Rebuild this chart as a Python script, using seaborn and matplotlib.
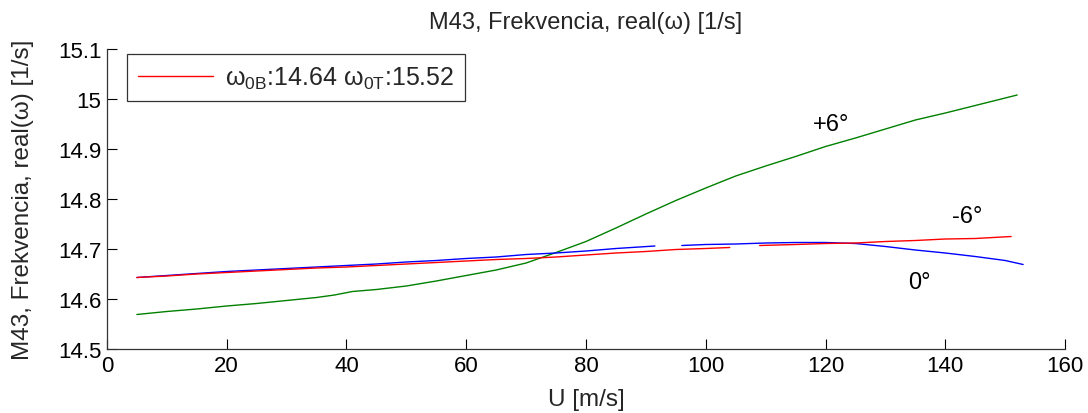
import numpy as np
import pandas as pd
import matplotlib
matplotlib.use("Agg")
import matplotlib.pyplot as plt
import seaborn as sns
from matplotlib.lines import Line2D

# ---- data ----
blue_x1 = [5, 10, 15, 20, 25, 30, 35, 40, 45, 50, 55, 60, 65, 70, 75, 80, 85, 91.5]
blue_y1 = [14.643, 14.647, 14.651, 14.655, 14.658, 14.661, 14.664, 14.667, 14.670, 14.674,
           14.677, 14.681, 14.684, 14.689, 14.692, 14.696, 14.701, 14.706]
blue_x2 = [96, 100, 105, 110, 115, 120, 125, 130, 135, 140, 145, 150, 153]
blue_y2 = [14.707, 14.709, 14.710, 14.712, 14.713, 14.713, 14.711, 14.705, 14.698, 14.692,
           14.685, 14.677, 14.669]

red_x1 = [5, 10, 15, 20, 25, 30, 35, 40, 45, 50, 55, 60, 65, 70, 75, 80, 85, 90, 95, 100, 104]
red_y1 = [14.643, 14.646, 14.650, 14.653, 14.656, 14.659, 14.662, 14.664, 14.667, 14.670,
          14.673, 14.676, 14.679, 14.681, 14.684, 14.688, 14.692, 14.695, 14.699, 14.701, 14.703]
red_x2 = [109, 115, 120, 125, 130, 135, 140, 145, 151]
red_y2 = [14.707, 14.709, 14.711, 14.712, 14.715, 14.717, 14.720, 14.721, 14.725]

green_x = [5, 10, 15, 20, 25, 30, 35, 38, 41, 45, 50, 55, 60, 65, 70, 75, 80, 85, 90, 95,
           100, 105, 110, 115, 120, 125, 130, 135, 140, 145, 150, 152]
green_y = [14.569, 14.575, 14.580, 14.586, 14.591, 14.597, 14.603, 14.608, 14.615, 14.619,
           14.626, 14.636, 14.647, 14.658, 14.672, 14.693, 14.715, 14.742, 14.770, 14.797,
           14.822, 14.846, 14.866, 14.885, 14.905, 14.922, 14.940, 14.958, 14.972, 14.987,
           15.002, 15.008]

annotations = [("+6°", 121, 14.95), ("-6°", 143.6, 14.766), ("0°", 135.6, 14.634)]
x_ticks = [0, 20, 40, 60, 80, 100, 120, 140, 160]
y_ticks = [14.5, 14.6, 14.7, 14.8, 14.9, 15.0, 15.1]
y_ticklabels = ["14.5", "14.6", "14.7", "14.8", "14.9", "15", "15.1"]
legend_label = r"$\omega_{0B}$:14.64 $\omega_{0T}$:15.52"

# ---- style ----
sns.set_theme(style="ticks")
plt.rcParams["font.family"] = ["Liberation Sans", "DejaVu Sans"]
plt.rcParams["mathtext.fontset"] = "custom"
plt.rcParams["mathtext.rm"] = "Liberation Sans"
plt.rcParams["mathtext.it"] = "Liberation Sans"
plt.rcParams["mathtext.default"] = "regular"

fig = plt.figure(figsize=(10.88, 4.14), dpi=100)
ax = fig.add_axes([0.0983, 0.1546, 0.8806, 0.7246])

segments = [
    (green_x, green_y, "#008000"),
    (blue_x1, blue_y1, "#0000FF"),
    (blue_x2, blue_y2, "#0000FF"),
    (red_x1, red_y1, "#FF0000"),
    (red_x2, red_y2, "#FF0000"),
]
for xs, ys, col in segments:
    df = pd.DataFrame({"x": xs, "y": ys})
    sns.lineplot(data=df, x="x", y="y", color=col, lw=1.0, ax=ax,
                 legend=False, estimator=None, sort=False)

for txt, xv, yv in annotations:
    ax.text(xv, yv, txt, fontsize=17, ha="center", va="center", color="black")

ax.set_xlim(0, 160)
ax.set_ylim(14.5, 15.1)
ax.set_xticks(x_ticks)
ax.set_xticklabels([str(t) for t in x_ticks])
ax.set_yticks(y_ticks)
ax.set_yticklabels(y_ticklabels)
ax.tick_params(direction="in", length=7, width=0.8, labelsize=16, colors="black", pad=4)
for s in ["top", "right"]:
    ax.spines[s].set_visible(False)
for s in ["left", "bottom"]:
    ax.spines[s].set_color("#333333")
    ax.spines[s].set_linewidth(0.9)

ax.set_title("M43, Frekvencia, real(ω) [1/s]", fontsize=17, pad=15)
ax.set_xlabel("U [m/s]", fontsize=17.5, labelpad=9)
ax.set_ylabel("M43, Frekvencia, real(ω) [1/s]", fontsize=17.5, labelpad=17)

h = [Line2D([0], [0], color="#FF0000", lw=1.0)]
leg = ax.legend(h, [legend_label], loc="upper left", bbox_to_anchor=(0.021, 0.983),
                borderaxespad=0, fontsize=18, frameon=True, fancybox=False,
                handlelength=3.0, borderpad=0.42, handletextpad=0.5)
leg.get_frame().set_edgecolor("black")
leg.get_frame().set_linewidth(0.9)

fig.savefig("out.png", dpi=100)
